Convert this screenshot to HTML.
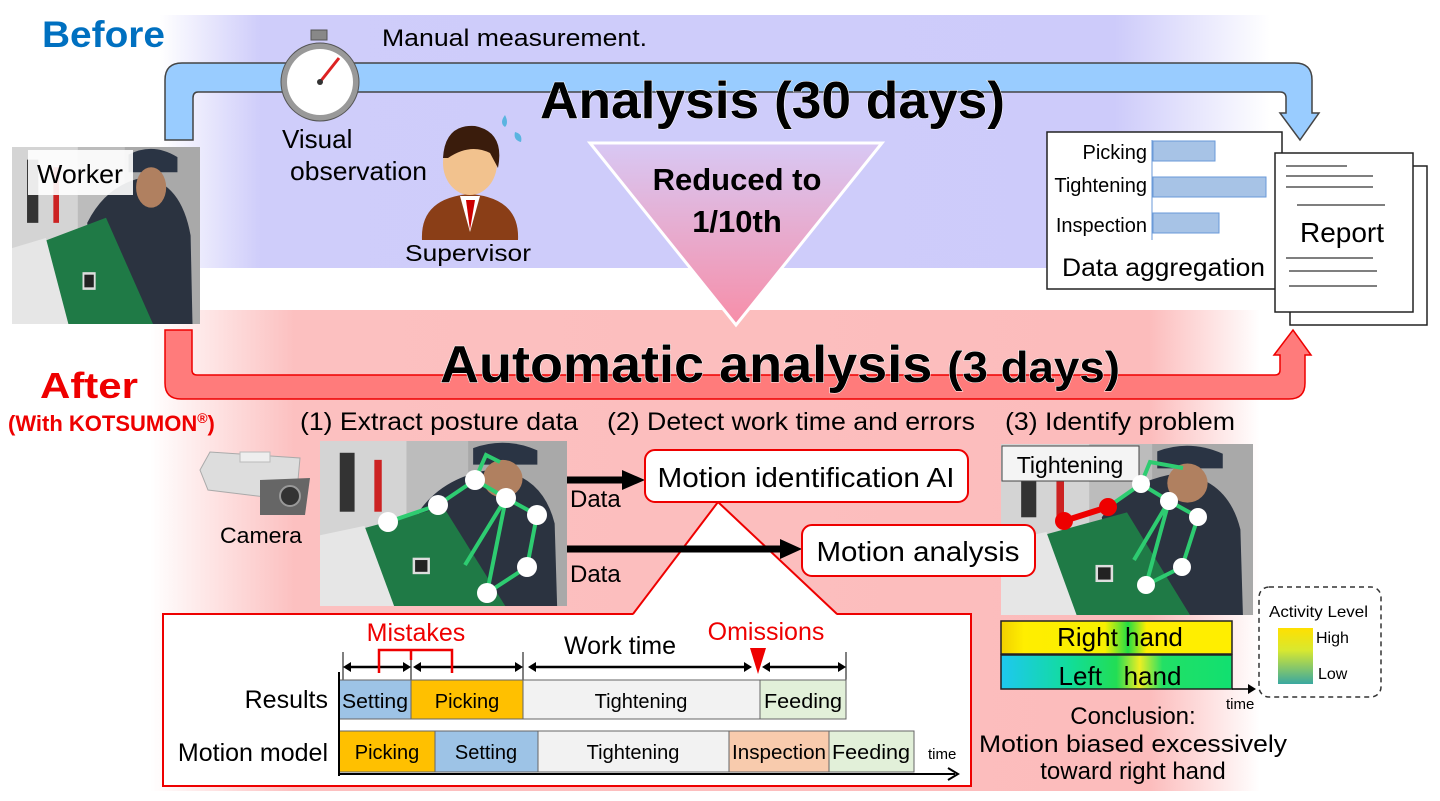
<!DOCTYPE html>
<html><head><meta charset="utf-8"><style>
body{margin:0;background:#fff;}
svg{display:block;font-family:"Liberation Sans",Arial,sans-serif;}
</style></head><body>
<svg width="1440" height="801" viewBox="0 0 1440 801" xmlns="http://www.w3.org/2000/svg">
<defs>
<linearGradient id="bl" x1="0" x2="1" y1="0" y2="0">
<stop offset="0" stop-color="#fff"/><stop offset="0.09" stop-color="#cfcdfa"/><stop offset="0.86" stop-color="#cdcbfa"/><stop offset="1" stop-color="#fff"/></linearGradient>
<linearGradient id="pk" x1="0" x2="1" y1="0" y2="0">
<stop offset="0" stop-color="#fff"/><stop offset="0.13" stop-color="#fcc0c0"/><stop offset="0.9" stop-color="#fcbcbc"/><stop offset="1" stop-color="#fff"/></linearGradient>
<linearGradient id="tri" x1="0" x2="0" y1="0" y2="1">
<stop offset="0" stop-color="#d8c8f4"/><stop offset="1" stop-color="#f78ea8"/></linearGradient>
<linearGradient id="rh" x1="0" x2="1"><stop offset="0" stop-color="#f0d000"/><stop offset="0.1" stop-color="#ffee00"/><stop offset="0.45" stop-color="#f8f000"/><stop offset="0.55" stop-color="#22dd44"/><stop offset="0.63" stop-color="#ffee00"/><stop offset="1" stop-color="#ffee00"/></linearGradient>
<linearGradient id="lh" x1="0" x2="1"><stop offset="0" stop-color="#1ec8f0"/><stop offset="0.3" stop-color="#11dd99"/><stop offset="0.5" stop-color="#22dd55"/><stop offset="0.6" stop-color="#eeee22"/><stop offset="0.7" stop-color="#22e066"/><stop offset="1" stop-color="#11e070"/></linearGradient>
<linearGradient id="al" x1="0" x2="0" y1="0" y2="1"><stop offset="0" stop-color="#ffe000"/><stop offset="0.4" stop-color="#d8e830"/><stop offset="1" stop-color="#3aa8a0"/></linearGradient>
<symbol id="photo" viewBox="0 0 100 70" preserveAspectRatio="none">
<rect width="100" height="70" fill="#bcbcbc"/>
<rect x="0" y="0" width="35" height="70" fill="#d4d4d4"/>
<rect x="8" y="5" width="6" height="25" fill="#333"/>
<rect x="22" y="8" width="3" height="22" fill="#c22"/>
<rect x="60" y="0" width="40" height="70" fill="#a9a9a9"/>
<path d="M40 30 Q50 15 70 12 Q90 14 95 35 L96 70 L45 70 Z" fill="#2b3340"/>
<path d="M62 3 Q75 -2 88 4 L88 10 L62 10 Z" fill="#2a3444"/>
<ellipse cx="74" cy="16" rx="8" ry="8" fill="#b08060"/>
<path d="M0 42 L50 28 L75 70 L0 70 Z" fill="#1f7a46"/>
<path d="M0 40 L18 36 L30 70 L0 70 Z" fill="#e6e6e6"/>
<rect x="38" y="50" width="6" height="6" fill="#222" stroke="#ddd"/>
</symbol>
</defs>

<rect x="160" y="15" width="1110" height="253" fill="url(#bl)"/>
<rect x="150" y="310" width="1110" height="481" fill="url(#pk)"/>

<path d="M165 140 L165 80 Q165 63 182 63 L1295 63 Q1312 63 1312 80 L1312 113 L1319 113 L1300 140 L1280 113 L1286 113 L1286 98 Q1286 92 1280 92 L198 92 Q193 92 193 98 L193 140 Z" fill="#99ccff" stroke="#444" stroke-width="1.5"/>
<path d="M165 330 L165 383 Q165 399 181 399 L1289 399 Q1305 399 1305 383 L1305 355 L1311 355 L1293 330 L1274 355 L1280 355 L1280 370 Q1280 375 1275 375 L197 375 Q192 375 192 370 L192 330 Z" fill="#ff7b7b" stroke="#e00" stroke-width="1.5"/>

<use href="#photo" x="12" y="147" width="188" height="177"/>
<rect x="28" y="150" width="105" height="45" fill="#fff" opacity="0.9"/>
<text x="37" y="183" font-size="26" textLength="86" lengthAdjust="spacingAndGlyphs">Worker</text>

<text x="42" y="47" font-size="37" font-weight="bold" fill="#0070c0" textLength="123" lengthAdjust="spacingAndGlyphs">Before</text>
<text x="382" y="46" font-size="24" textLength="265" lengthAdjust="spacingAndGlyphs">Manual measurement.</text>

<rect x="311" y="30" width="16" height="10" fill="#888" stroke="#555"/>
<circle cx="320" cy="82" r="39" fill="#999" stroke="#555"/>
<circle cx="320" cy="82" r="33" fill="#fff"/>
<line x1="320" y1="82" x2="339" y2="58" stroke="#d22" stroke-width="3"/>
<circle cx="320" cy="82" r="3" fill="#333"/>

<text x="282" y="148" font-size="26">Visual</text>
<text x="290" y="180" font-size="26" textLength="137" lengthAdjust="spacingAndGlyphs">observation</text>

<path d="M422 240 Q420 198 470 194 Q520 198 518 240 Z" fill="#8a3e17"/>
<path d="M460 196 L470 232 L480 196 Z" fill="#fff"/>
<path d="M466 200 L470 230 L475 200 Z" fill="#c00"/>
<ellipse cx="470" cy="163" rx="27" ry="32" fill="#f2c28e"/>
<path d="M443 158 Q445 124 475 126 Q505 132 498 168 L490 153 Q470 143 448 158 Z" fill="#3a1c0c"/>
<path d="M505 115 q4 8 0 12 q-6 -4 0 -12z M515 132 q8 2 6 10 q-8 -2 -6 -10z" fill="#5ab4e0"/>
<text x="405" y="261" font-size="23" textLength="126" lengthAdjust="spacingAndGlyphs">Supervisor</text>

<text x="540" y="118" font-size="52" font-weight="bold" textLength="465" lengthAdjust="spacingAndGlyphs" fill="#000" stroke="#fff" stroke-width="1" style="paint-order:stroke">Analysis (30 days)</text>

<path d="M590 143 L882 143 L736 325 Z" fill="url(#tri)" stroke="#fff" stroke-width="3"/>
<text x="737" y="190" font-size="31" font-weight="bold" text-anchor="middle">Reduced to</text>
<text x="737" y="232" font-size="31" font-weight="bold" text-anchor="middle">1/10th</text>

<rect x="1047" y="132" width="235" height="157" fill="#fff" stroke="#222" stroke-width="1.5"/>
<line x1="1152" y1="140" x2="1152" y2="240" stroke="#6a9ad8"/>
<rect x="1153" y="141" width="62" height="20" fill="#a7c3e6" stroke="#6a9ad8"/>
<rect x="1153" y="177" width="113" height="20" fill="#a7c3e6" stroke="#6a9ad8"/>
<rect x="1153" y="213" width="66" height="20" fill="#a7c3e6" stroke="#6a9ad8"/>
<g font-size="20" text-anchor="end"><text x="1147" y="159">Picking</text><text x="1147" y="192">Tightening</text><text x="1147" y="232">Inspection</text></g>
<text x="1062" y="276" font-size="25" textLength="203" lengthAdjust="spacingAndGlyphs">Data aggregation</text>
<rect x="1290" y="166" width="137" height="159" fill="#fff" stroke="#222" stroke-width="1.5"/>
<rect x="1275" y="153" width="138" height="159" fill="#fff" stroke="#222" stroke-width="1.5"/>
<g stroke="#555" stroke-width="1.5"><line x1="1286" y1="166" x2="1347" y2="166"/><line x1="1286" y1="176" x2="1373" y2="176"/><line x1="1286" y1="187" x2="1373" y2="187"/><line x1="1297" y1="205" x2="1385" y2="205"/><line x1="1286" y1="258" x2="1373" y2="258"/><line x1="1289" y1="271" x2="1377" y2="271"/><line x1="1289" y1="286" x2="1377" y2="286"/></g>
<text x="1342" y="242" font-size="28" text-anchor="middle">Report</text>

<text x="440" y="382" font-size="52" font-weight="bold" textLength="680" lengthAdjust="spacingAndGlyphs" stroke="#fff" stroke-width="1" style="paint-order:stroke">Automatic analysis <tspan font-size="44">(3 days)</tspan></text>

<text x="40" y="398" font-size="36" font-weight="bold" fill="#e00" textLength="98" lengthAdjust="spacingAndGlyphs">After</text>
<text x="8" y="431" font-size="22" font-weight="bold" fill="#e00">(With KOTSUMON<tspan font-size="14" dy="-8">®</tspan><tspan dy="8">)</tspan></text>

<path d="M200 470 L210 452 L300 458 L298 480 L290 500 L208 490 Z" fill="#ddd" stroke="#aaa"/>
<rect x="240" y="452" width="30" height="10" fill="#eee" stroke="#bbb"/>
<path d="M260 480 L310 478 L305 515 L260 515 Z" fill="#666"/>
<circle cx="290" cy="496" r="10" fill="#333" stroke="#999" stroke-width="2"/>
<text x="220" y="543" font-size="22" textLength="82" lengthAdjust="spacingAndGlyphs">Camera</text>

<text x="300" y="430" font-size="25" textLength="278" lengthAdjust="spacingAndGlyphs">(1) Extract posture data</text>
<text x="607" y="430" font-size="25" textLength="368" lengthAdjust="spacingAndGlyphs">(2) Detect work time and errors</text>
<text x="1005" y="430" font-size="25" textLength="230" lengthAdjust="spacingAndGlyphs">(3) Identify problem</text>

<use href="#photo" x="1001" y="444" width="252" height="171"/>
<rect x="1002" y="446" width="137" height="35" fill="#f4f4f4" stroke="#444"/>
<text x="1070" y="473" font-size="23" text-anchor="middle">Tightening</text>
<g stroke="#2ecc71" stroke-width="4" fill="none"><polyline points="1108,507 1141,484 1169,501 1198,517 1182,567 1146,585 1169,501 1134,560"/><polyline points="1141,484 1150,462 1183,468"/></g>
<line x1="1064" y1="521" x2="1108" y2="507" stroke="#e00" stroke-width="6"/>
<circle cx="1064" cy="521" r="9" fill="#e00"/><circle cx="1108" cy="507" r="9" fill="#e00"/>
<g fill="#fff"><circle cx="1141" cy="484" r="9"/><circle cx="1169" cy="501" r="9"/><circle cx="1198" cy="517" r="9"/><circle cx="1182" cy="567" r="9"/><circle cx="1146" cy="585" r="9"/></g>

<rect x="163" y="614" width="808" height="172" fill="#fff" stroke="#e00" stroke-width="2"/>
<path d="M633 615 L718 502 L837 615 Z" fill="#fff"/>
<path d="M633 614 L718 502 L837 614" fill="none" stroke="#e00" stroke-width="2"/>

<use href="#photo" x="320" y="441" width="247" height="165"/>
<g stroke="#2ecc71" stroke-width="4" fill="none"><polyline points="388,522 438,505 475,480 506,498 537,515 527,567 487,593 506,498 465,565"/><polyline points="475,480 486,455 500,462 M486,455 506,498"/></g>
<g fill="#fff"><circle cx="388" cy="522" r="10"/><circle cx="438" cy="505" r="10"/><circle cx="475" cy="480" r="10"/><circle cx="506" cy="498" r="10"/><circle cx="537" cy="515" r="10"/><circle cx="527" cy="567" r="10"/><circle cx="487" cy="593" r="10"/></g>

<line x1="567" y1="480" x2="625" y2="480" stroke="#000" stroke-width="7"/><path d="M622 470 L645 480 L622 490Z"/>
<line x1="567" y1="549" x2="782" y2="549" stroke="#000" stroke-width="7"/><path d="M780 539 L802 549 L780 559Z"/>
<text x="570" y="507" font-size="24">Data</text>
<text x="570" y="582" font-size="24">Data</text>

<rect x="645" y="450" width="323" height="52" rx="10" fill="#fff" stroke="#e00" stroke-width="2"/>
<text x="806" y="487" font-size="28" text-anchor="middle" textLength="297" lengthAdjust="spacingAndGlyphs">Motion identification AI</text>
<rect x="802" y="525" width="233" height="51" rx="10" fill="#fff" stroke="#e00" stroke-width="2"/>
<text x="918" y="561" font-size="28" text-anchor="middle" textLength="203" lengthAdjust="spacingAndGlyphs">Motion analysis</text>

<g stroke="#000" stroke-width="1"><line x1="343" y1="652" x2="343" y2="680"/><line x1="411" y1="652" x2="411" y2="680"/><line x1="523" y1="652" x2="523" y2="680"/><line x1="846" y1="652" x2="846" y2="680"/></g>
<g stroke="#000" stroke-width="2.5"><line x1="348" y1="667" x2="406" y2="667"/><line x1="418" y1="667" x2="518" y2="667"/><line x1="533" y1="667" x2="747" y2="667"/><line x1="767" y1="667" x2="841" y2="667"/></g>
<g fill="#000"><path d="M343 667 l8 -5 v10z M411 667 l-8 -5 v10z M413 667 l8 -5 v10z M523 667 l-8 -5 v10z M528 667 l8 -5 v10z M752 667 l-8 -5 v10z M762 667 l8 -5 v10z M846 667 l-8 -5 v10z"/></g>
<path d="M379 673 L379 650 L452 650 L452 673 M411 650 L411 660" stroke="#e00" stroke-width="2.5" fill="none"/>
<path d="M750 648 L766 648 L758 674Z" fill="#e00"/>
<text x="416" y="641" font-size="25" fill="#e00" text-anchor="middle">Mistakes</text>
<text x="620" y="654" font-size="25" text-anchor="middle">Work time</text>
<text x="766" y="640" font-size="25" fill="#e00" text-anchor="middle">Omissions</text>
<g stroke="#666" stroke-width="1">
<rect x="339" y="680" width="72" height="39" fill="#9dc3e6"/><rect x="411" y="680" width="112" height="39" fill="#ffc000"/><rect x="523" y="680" width="237" height="39" fill="#f2f2f2"/><rect x="760" y="680" width="86" height="39" fill="#e2f0d9"/>
<rect x="339" y="731" width="96" height="41" fill="#ffc000"/><rect x="435" y="731" width="103" height="41" fill="#9dc3e6"/><rect x="538" y="731" width="191" height="41" fill="#f2f2f2"/><rect x="729" y="731" width="100" height="41" fill="#f8cbad"/><rect x="829" y="731" width="85" height="41" fill="#e2f0d9"/>
</g>
<g font-size="20" text-anchor="middle">
<text x="375" y="708" textLength="66" lengthAdjust="spacingAndGlyphs">Setting</text><text x="467" y="708">Picking</text><text x="641" y="708">Tightening</text><text x="803" y="708" textLength="78" lengthAdjust="spacingAndGlyphs">Feeding</text>
<text x="387" y="759">Picking</text><text x="486" y="759">Setting</text><text x="633" y="759">Tightening</text><text x="779" y="759" textLength="94" lengthAdjust="spacingAndGlyphs">Inspection</text><text x="871" y="759" textLength="78" lengthAdjust="spacingAndGlyphs">Feeding</text>
</g>
<line x1="339" y1="672" x2="339" y2="776" stroke="#000" stroke-width="2"/>
<line x1="339" y1="774" x2="955" y2="774" stroke="#000" stroke-width="2"/>
<path d="M948 768 L958 774 L948 780" stroke="#000" stroke-width="2" fill="none"/>
<text x="928" y="759" font-size="15">time</text>
<text x="328" y="708" font-size="25" text-anchor="end">Results</text>
<text x="328" y="761" font-size="25" text-anchor="end">Motion model</text>

<rect x="1001" y="621" width="231" height="33" fill="url(#rh)" stroke="#222" stroke-width="1.5"/>
<rect x="1001" y="655" width="231" height="34" fill="url(#lh)" stroke="#222" stroke-width="1.5"/>
<text x="1120" y="646" font-size="26" text-anchor="middle">Right hand</text>
<text x="1120" y="685" font-size="26" text-anchor="middle" xml:space="preserve">Left   hand</text>
<line x1="1232" y1="689" x2="1252" y2="689" stroke="#000" stroke-width="1.5"/><path d="M1248 684 L1256 689 L1248 694Z"/>
<text x="1226" y="709" font-size="15">time</text>
<rect x="1259" y="587" width="122" height="110" rx="10" fill="#fff" stroke="#333" stroke-width="1.5" stroke-dasharray="5,4"/>
<text x="1269" y="617" font-size="16" textLength="99" lengthAdjust="spacingAndGlyphs">Activity Level</text>
<rect x="1278" y="628" width="35" height="56" fill="url(#al)"/>
<text x="1316" y="643" font-size="16">High</text>
<text x="1318" y="679" font-size="16">Low</text>
<g font-size="24" text-anchor="middle"><text x="1133" y="724">Conclusion:</text><text x="1133" y="752" textLength="308" lengthAdjust="spacingAndGlyphs">Motion biased excessively</text><text x="1133" y="779">toward right hand</text></g>
</svg>
</body></html>
